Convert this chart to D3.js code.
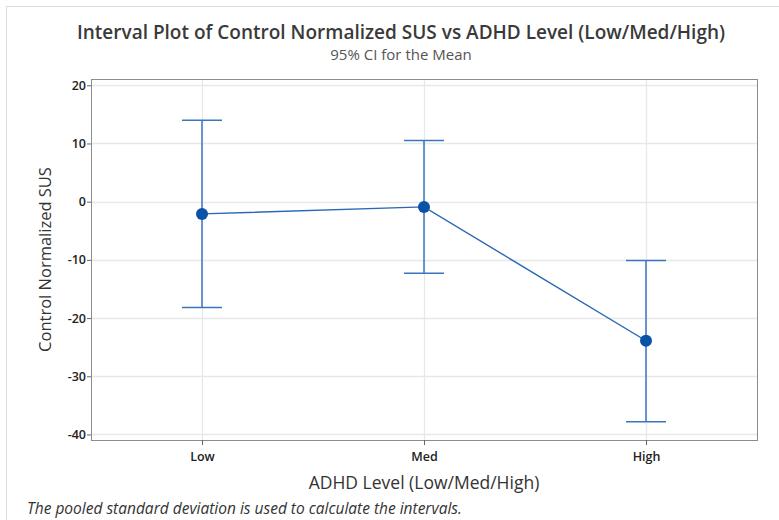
<!DOCTYPE html>
<html>
<head>
<meta charset="utf-8">
<script src="https://cdn.jsdelivr.net/npm/d3@7"></script>
<style>
  body { margin: 0; background: #fff; }
  text { font-family: "Open Sans", "Noto Sans", sans-serif; }
</style>
</head>
<body>
<div id="chart-area"></div>
<script>
// data
let levels = ["Low", "Med", "High"];
let means = [-2.1, -0.9, -23.9];
let upper = [14.0, 10.5, -10.1];
let lower = [-18.2, -12.3, -37.8];
let yTicks = [20, 10, 0, -10, -20, -30, -40];

let W = 779, H = 520;
let margin = {top: 79, right: 22, bottom: 80, left: 91};
let width = W - margin.left - margin.right;
let height = 440 - margin.top;

let rows = levels.map((d, i) => ({level: d, mean: means[i], hi: upper[i], lo: lower[i]}));

let svg = d3.select("#chart-area").append("svg")
  .attr("width", W)
  .attr("height", H);

// outer frame
svg.append("rect")
  .attr("x", 6.5).attr("y", 6.5)
  .attr("width", W + 10).attr("height", H + 10)
  .attr("fill", "none").attr("stroke", "#dcdcdc");

let g = svg.append("g")
  .attr("transform", "translate(" + margin.left + "," + margin.top + ")");

let x = d3.scalePoint()
  .domain(levels)
  .range([0, width])
  .padding(0.5);

let y = d3.scaleLinear()
  .domain([-40.95, 21.08])
  .range([height, 0]);

// gridlines
g.selectAll(".hgrid")
  .data(yTicks)
  .enter().append("line")
  .attr("class", "hgrid")
  .attr("x1", 0).attr("x2", width)
  .attr("y1", d => Math.round(y(d)) + 0.5).attr("y2", d => Math.round(y(d)) + 0.5)
  .attr("stroke", "#e8e8e8").attr("stroke-width", 1.3);

g.selectAll(".vgrid")
  .data(levels)
  .enter().append("line")
  .attr("class", "vgrid")
  .attr("x1", d => Math.round(x(d)) + 0.5).attr("x2", d => Math.round(x(d)) + 0.5)
  .attr("y1", 0).attr("y2", height)
  .attr("stroke", "#e8e8e8").attr("stroke-width", 1.3);

// frame of plot area
g.append("rect")
  .attr("x", 0.5).attr("y", 0.5)
  .attr("width", width).attr("height", height)
  .attr("fill", "none").attr("stroke", "#8c8c8c");

// axes
let yAxis = d3.axisLeft(y).tickValues(yTicks).tickSize(4).tickSizeOuter(0)
  .tickFormat(d => String(d));
let yG = g.append("g").attr("class", "y-axis").call(yAxis);
yG.select(".domain").remove();
yG.selectAll("line").attr("stroke", "#666");
yG.selectAll("text")
  .attr("fill", "#222").attr("font-size", 12.5).attr("font-weight", 600)
  .attr("x", -5);

let xAxis = d3.axisBottom(x).tickSize(5).tickSizeOuter(0);
let xG = g.append("g").attr("class", "x-axis")
  .attr("transform", "translate(0," + height + ")")
  .call(xAxis);
xG.select(".domain").remove();
xG.selectAll("line").attr("stroke", "#666");
xG.selectAll("text")
  .attr("fill", "#222").attr("font-size", 12.5).attr("font-weight", 600)
  .attr("y", 12);

// connecting line of means
g.append("path")
  .datum(rows)
  .attr("fill", "none")
  .attr("stroke", "#2a68b5")
  .attr("stroke-width", 1.4)
  .attr("d", d3.line().x(d => x(d.level)).y(d => y(d.mean)));

// interval bars
let capW = 20;
let bars = g.selectAll(".ci").data(rows).enter().append("g").attr("class", "ci");
bars.append("line")
  .attr("x1", d => x(d.level)).attr("x2", d => x(d.level))
  .attr("y1", d => y(d.hi)).attr("y2", d => y(d.lo))
  .attr("stroke", "#3a76c0").attr("stroke-width", 1.5);
bars.append("line")
  .attr("x1", d => x(d.level) - capW).attr("x2", d => x(d.level) + capW)
  .attr("y1", d => y(d.hi)).attr("y2", d => y(d.hi))
  .attr("stroke", "#3a76c0").attr("stroke-width", 1.5);
bars.append("line")
  .attr("x1", d => x(d.level) - capW).attr("x2", d => x(d.level) + capW)
  .attr("y1", d => y(d.lo)).attr("y2", d => y(d.lo))
  .attr("stroke", "#3a76c0").attr("stroke-width", 1.5);

// mean symbols
g.selectAll(".dot").data(rows).enter().append("circle")
  .attr("class", "dot")
  .attr("cx", d => x(d.level)).attr("cy", d => y(d.mean))
  .attr("r", 6)
  .attr("fill", "#0a52a5");

// titles
svg.append("text")
  .attr("x", 401).attr("y", 39)
  .attr("text-anchor", "middle")
  .attr("font-size", 19).attr("font-weight", 600).attr("fill", "#3a3a3a")
  .text("Interval Plot of Control Normalized SUS vs ADHD Level (Low/Med/High)");
svg.append("text")
  .attr("x", 401).attr("y", 60)
  .attr("text-anchor", "middle")
  .attr("font-size", 15).attr("fill", "#555")
  .text("95% CI for the Mean");

// axis titles
svg.append("text")
  .attr("transform", "translate(51," + (margin.top + height / 2) + ") rotate(-90)")
  .attr("text-anchor", "middle")
  .attr("font-size", 16.5).attr("fill", "#333")
  .text("Control Normalized SUS");
svg.append("text")
  .attr("x", margin.left + width / 2).attr("y", 489)
  .attr("text-anchor", "middle")
  .attr("font-size", 17.5).attr("fill", "#333")
  .text("ADHD Level (Low/Med/High)");

// footnote
svg.append("text")
  .attr("x", 27).attr("y", 514)
  .attr("font-size", 15.5).attr("font-style", "italic").attr("fill", "#333")
  .text("The pooled standard deviation is used to calculate the intervals.");
</script>
</body>
</html>
